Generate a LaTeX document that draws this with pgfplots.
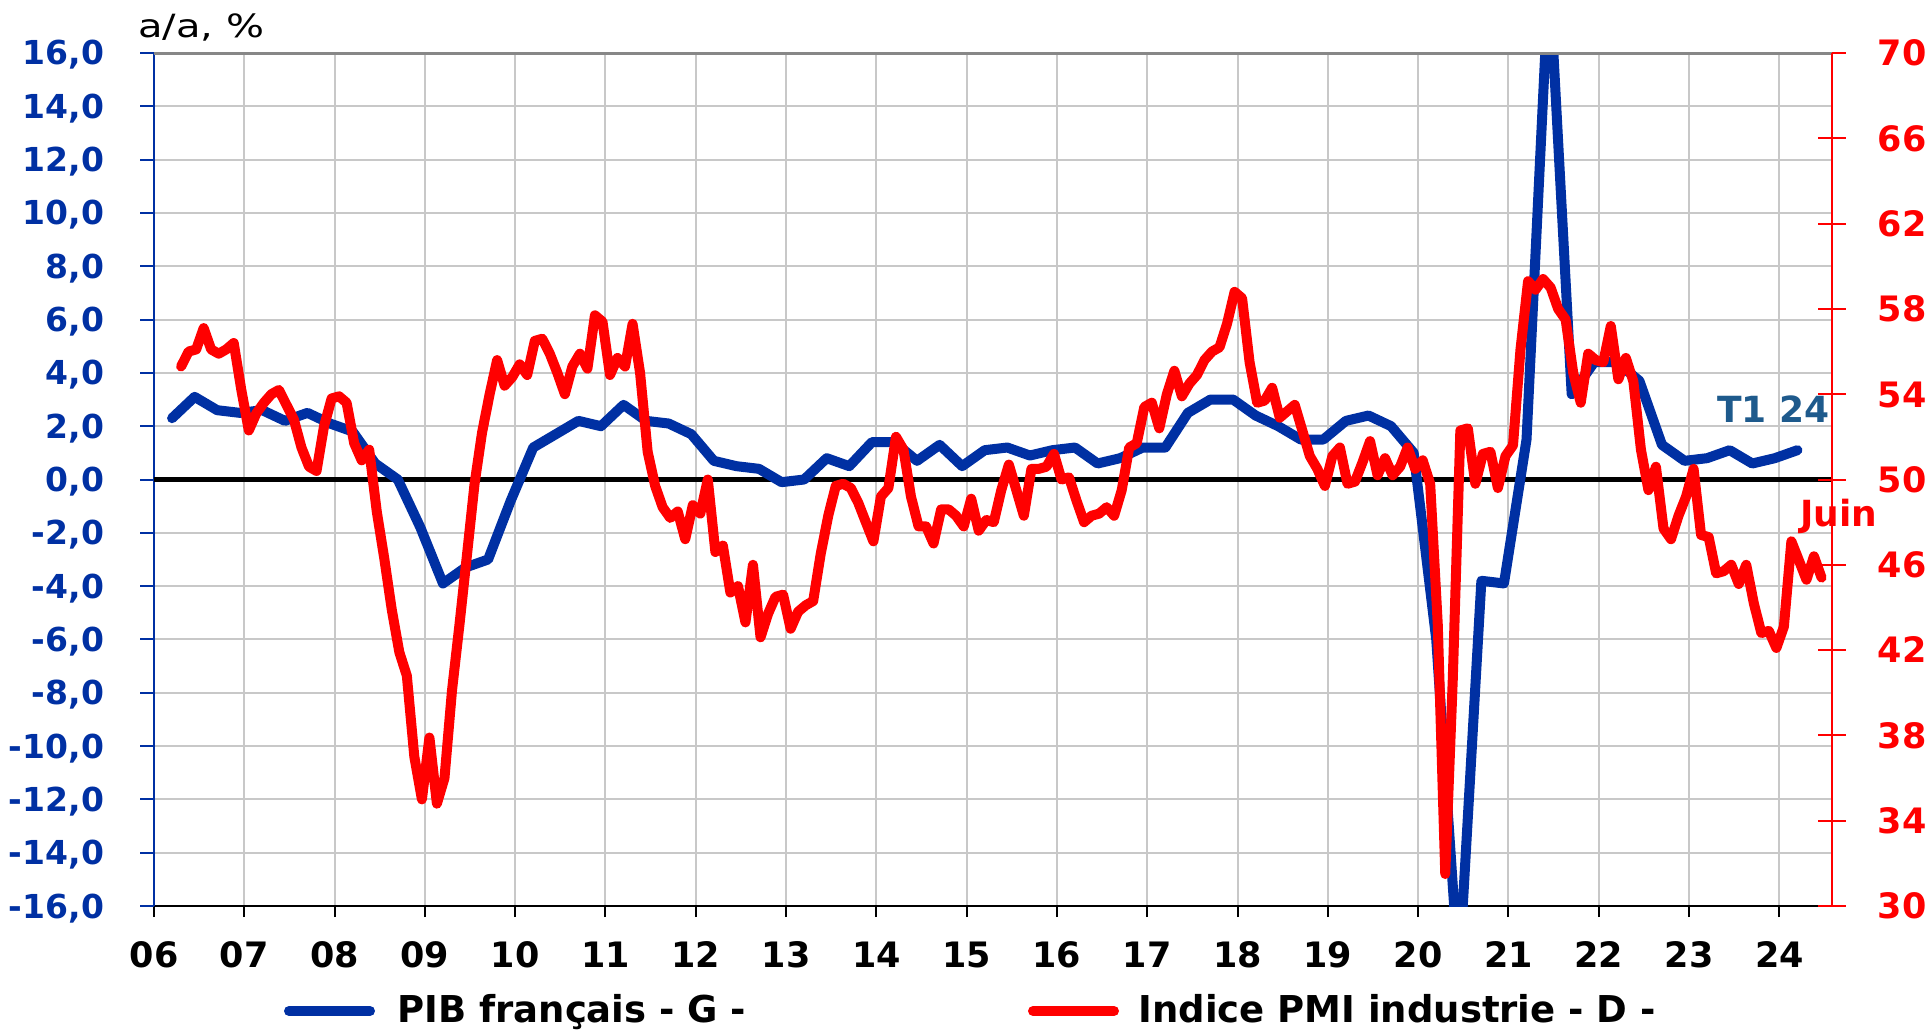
\documentclass[border=0pt]{standalone}
\usepackage{fontspec}
\setmainfont{DejaVu Sans}
\newfontfamily\stretchfont{DejaVu Sans}[FakeStretch=1.25]
\usepackage{pgfplots}
\pgfplotsset{compat=1.18}
\usepackage{pgfplotstable}
\definecolor{pibblue}{RGB}{0,48,163}
\definecolor{pmired}{RGB}{255,0,0}
\definecolor{tlabel}{RGB}{30,90,140}
\definecolor{gridgray}{RGB}{200,200,200}
\definecolor{topgray}{RGB}{135,135,135}

\pgfplotstableread{
x y
2006.200 2.3
2006.450 3.1
2006.700 2.6
2006.950 2.5
2007.200 2.6
2007.450 2.2
2007.700 2.5
2007.950 2.1
2008.200 1.8
2008.450 0.6
2008.700 0.0
2008.950 -1.8
2009.200 -3.9
2009.450 -3.3
2009.700 -3.0
2009.950 -0.8
2010.200 1.2
2010.450 1.7
2010.700 2.2
2010.950 2.0
2011.200 2.8
2011.450 2.2
2011.700 2.1
2011.950 1.7
2012.200 0.7
2012.450 0.5
2012.700 0.4
2012.950 -0.1
2013.200 0.0
2013.450 0.8
2013.700 0.5
2013.950 1.4
2014.200 1.4
2014.450 0.7
2014.700 1.3
2014.950 0.5
2015.200 1.1
2015.450 1.2
2015.700 0.9
2015.950 1.1
2016.200 1.2
2016.450 0.6
2016.700 0.8
2016.950 1.2
2017.200 1.2
2017.450 2.5
2017.700 3.0
2017.950 3.0
2018.200 2.4
2018.450 2.0
2018.700 1.5
2018.950 1.5
2019.200 2.2
2019.450 2.4
2019.700 2.0
2019.950 1.0
2020.200 -6.0
2020.450 -18.6
2020.700 -3.8
2020.950 -3.9
2021.200 1.5
2021.450 19.0
2021.700 3.2
2021.950 4.4
2022.200 4.4
2022.450 3.7
2022.700 1.3
2022.950 0.7
2023.200 0.8
2023.450 1.1
2023.700 0.6
2023.950 0.8
2024.200 1.1
}\pibdata

\pgfplotstableread{
x y
2006.300 55.3
2006.383 56.0
2006.467 56.1
2006.550 57.1
2006.633 56.1
2006.717 55.9
2006.800 56.1
2006.883 56.4
2006.967 54.2
2007.050 52.3
2007.133 53.1
2007.217 53.6
2007.300 54.0
2007.383 54.2
2007.467 53.5
2007.550 52.8
2007.633 51.5
2007.717 50.6
2007.800 50.4
2007.883 52.5
2007.967 53.8
2008.050 53.9
2008.133 53.6
2008.217 51.7
2008.300 50.9
2008.383 51.4
2008.467 48.5
2008.550 46.3
2008.633 43.9
2008.717 41.9
2008.800 40.8
2008.883 37.0
2008.967 35.0
2009.050 37.9
2009.133 34.8
2009.217 36.0
2009.300 40.1
2009.383 43.2
2009.467 46.5
2009.550 49.8
2009.633 52.2
2009.717 54.0
2009.800 55.6
2009.883 54.4
2009.967 54.8
2010.050 55.4
2010.133 54.9
2010.217 56.5
2010.300 56.6
2010.383 55.9
2010.467 55.0
2010.550 54.0
2010.633 55.3
2010.717 55.9
2010.800 55.2
2010.883 57.7
2010.967 57.4
2011.050 54.9
2011.133 55.7
2011.217 55.3
2011.300 57.3
2011.383 55.0
2011.467 51.3
2011.550 49.7
2011.633 48.7
2011.717 48.2
2011.800 48.5
2011.883 47.2
2011.967 48.8
2012.050 48.4
2012.133 50.0
2012.217 46.6
2012.300 46.9
2012.383 44.7
2012.467 45.0
2012.550 43.3
2012.633 46.0
2012.717 42.6
2012.800 43.7
2012.883 44.5
2012.967 44.6
2013.050 43.0
2013.133 43.8
2013.217 44.1
2013.300 44.3
2013.383 46.5
2013.467 48.3
2013.550 49.7
2013.633 49.8
2013.717 49.6
2013.800 48.9
2013.883 48.0
2013.967 47.1
2014.050 49.2
2014.133 49.6
2014.217 52.0
2014.300 51.4
2014.383 49.2
2014.467 47.8
2014.550 47.8
2014.633 47.0
2014.717 48.6
2014.800 48.6
2014.883 48.3
2014.967 47.8
2015.050 49.1
2015.133 47.6
2015.217 48.1
2015.300 48.0
2015.383 49.5
2015.467 50.7
2015.550 49.5
2015.633 48.3
2015.717 50.5
2015.800 50.5
2015.883 50.6
2015.967 51.2
2016.050 50.0
2016.133 50.1
2016.217 49.0
2016.300 48.0
2016.383 48.3
2016.467 48.4
2016.550 48.7
2016.633 48.3
2016.717 49.5
2016.800 51.5
2016.883 51.7
2016.967 53.4
2017.050 53.6
2017.133 52.4
2017.217 54.0
2017.300 55.1
2017.383 53.9
2017.467 54.5
2017.550 54.9
2017.633 55.6
2017.717 56.0
2017.800 56.2
2017.883 57.3
2017.967 58.8
2018.050 58.5
2018.133 55.5
2018.217 53.6
2018.300 53.7
2018.383 54.3
2018.467 52.9
2018.550 53.2
2018.633 53.5
2018.717 52.3
2018.800 51.1
2018.883 50.5
2018.967 49.7
2019.050 51.1
2019.133 51.5
2019.217 49.8
2019.300 49.9
2019.383 50.8
2019.467 51.8
2019.550 50.2
2019.633 51.0
2019.717 50.2
2019.800 50.6
2019.883 51.5
2019.967 50.5
2020.050 50.9
2020.133 49.8
2020.217 43.2
2020.300 31.5
2020.383 40.6
2020.467 52.3
2020.550 52.4
2020.633 49.8
2020.717 51.2
2020.800 51.3
2020.883 49.6
2020.967 51.1
2021.050 51.6
2021.133 56.1
2021.217 59.3
2021.300 58.9
2021.383 59.4
2021.467 59.0
2021.550 58.0
2021.633 57.5
2021.717 55.0
2021.800 53.6
2021.883 55.9
2021.967 55.6
2022.050 55.5
2022.133 57.2
2022.217 54.7
2022.300 55.7
2022.383 54.6
2022.467 51.4
2022.550 49.5
2022.633 50.6
2022.717 47.7
2022.800 47.2
2022.883 48.3
2022.967 49.2
2023.050 50.5
2023.133 47.4
2023.217 47.3
2023.300 45.6
2023.383 45.7
2023.467 46.0
2023.550 45.1
2023.633 46.0
2023.717 44.2
2023.800 42.8
2023.883 42.9
2023.967 42.1
2024.050 43.1
2024.133 47.1
2024.217 46.2
2024.300 45.3
2024.383 46.4
2024.467 45.4
}\pmidata

\begin{document}
\begin{tikzpicture}
\begin{axis}[
  scale only axis, width=839pt, height=426.5pt,
  xmin=2006, xmax=2024.583, ymin=-16, ymax=16,
  axis x line*=bottom, axis y line*=left,
  x axis line style={draw=black, line width=1pt},
  y axis line style={draw=pibblue, line width=1.2pt},
  xtick={2006,2007,2008,2009,2010,2011,2012,2013,2014,2015,2016,2017,2018,2019,2020,2021,2022,2023,2024},
  xticklabels={06,07,08,09,10,11,12,13,14,15,16,17,18,19,20,21,22,23,24},
  ytick={-16,-14,-12,-10,-8,-6,-4,-2,0,2,4,6,8,10,12,14,16},
  yticklabels={{-16,0},{-14,0},{-12,0},{-10,0},{-8,0},{-6,0},{-4,0},{-2,0},{0,0},{2,0},{4,0},{6,0},{8,0},{10,0},{12,0},{14,0},{16,0}},
  tick align=outside,
  xtick style={draw=black, line width=1pt, /pgfplots/major tick length=5.5pt},
  ytick style={draw=pibblue, line width=1pt, /pgfplots/major tick length=7pt},
  grid=major,
  major grid style={draw=gridgray, line width=1pt},
  xticklabel style={font=\fontsize{17.5}{20}\selectfont\bfseries, text=black, anchor=north, inner sep=0pt, yshift=-13.5pt},
  yticklabel style={font=\fontsize{16.5}{19}\selectfont\bfseries, text=pibblue, anchor=base east, inner sep=0pt, xshift=-20.5pt, yshift=-6pt},
]
\addplot[black, line width=2.5pt, forget plot] coordinates {(2006,0) (2024.583,0)};
\addplot[pibblue, line width=5pt, line join=round, line cap=round] table[x=x,y=y] {\pibdata};
\end{axis}
\begin{axis}[
  scale only axis, width=839pt, height=426.5pt,
  xmin=2006, xmax=2024.583, ymin=30, ymax=70,
  axis x line*=top, axis y line*=right,
  x axis line style={draw=topgray, line width=1.5pt},
  y axis line style={draw=pmired, line width=1.2pt},
  xtick=\empty,
  ytick={30,34,38,42,46,50,54,58,62,66,70},
  yticklabels={30,34,38,42,46,50,54,58,62,66,70},
  tick align=center,
  ytick style={draw=pmired, line width=1pt, /pgfplots/major tick length=14pt},
  yticklabel style={font=\fontsize{17.5}{20}\selectfont\bfseries, text=pmired, anchor=base west, inner sep=0pt, xshift=20.5pt, yshift=-6.4pt},
]
\addplot[pmired, line width=5pt, line join=round, line cap=round] table[x=x,y=y] {\pmidata};
\end{axis}
\node[anchor=base west, inner sep=0pt, font=\stretchfont\fontsize{16}{19}\selectfont, text=black] at (-8pt,434pt) {a/a, \%};
\node[anchor=base east, inner sep=0pt, font=\fontsize{18}{21}\selectfont\bfseries, text=tlabel] at (838pt,242pt) {T1 24};
\node[anchor=base west, inner sep=0pt, font=\fontsize{18}{21}\selectfont\bfseries, text=pmired] at (823pt,190pt) {Juin};
\draw[pibblue, line width=5pt, line cap=round] (67.5pt,-52.5pt) -- (108pt,-52.5pt);
\node[anchor=base west, inner sep=0pt, font=\fontsize{18.5}{21}\selectfont\bfseries] at (121.5pt,-58pt) {PIB français - G -};
\draw[pmired, line width=5pt, line cap=round] (439.5pt,-52.5pt) -- (480pt,-52.5pt);
\node[anchor=base west, inner sep=0pt, font=\fontsize{18.5}{21}\selectfont\bfseries] at (492pt,-58pt) {Indice PMI industrie - D -};
\pgfresetboundingbox
\useasboundingbox (-77pt,-62pt) rectangle (887.5pt,453pt);
\end{tikzpicture}
\end{document}
